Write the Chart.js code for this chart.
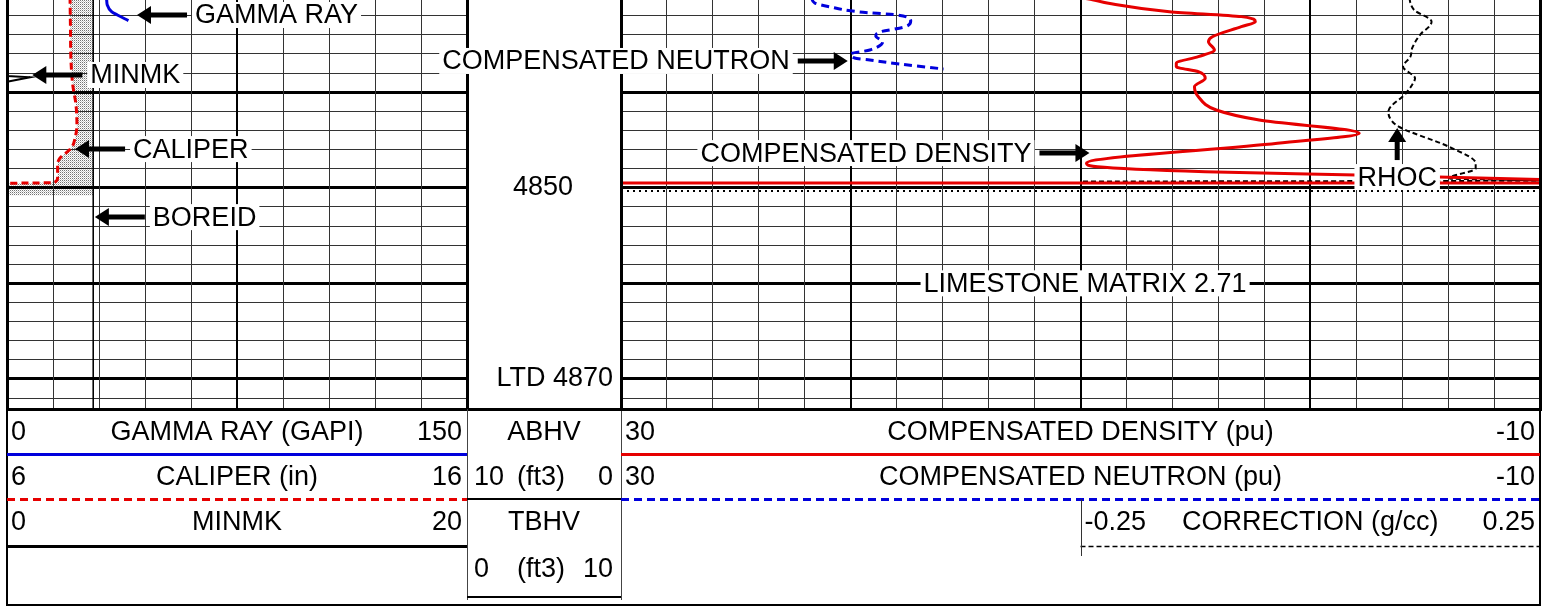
<!DOCTYPE html>
<html>
<head>
<meta charset="utf-8">
<script src="https://cdn.jsdelivr.net/npm/chart.js@4.4.1/dist/chart.umd.min.js"></script>
<style>
  body { margin: 0; background: #fff; }
  #wrap { position: relative; width: 1554px; height: 608px; }
  #wrap canvas { position: absolute; left: 0; top: 0; }
</style>
</head>
<body>
<div id="wrap">
  <canvas id="track1" width="1554" height="608"></canvas>
  <canvas id="depthTrack" width="1554" height="608"></canvas>
  <canvas id="track2" width="1554" height="608"></canvas>
</div>
<script>
// depth window shown (ft)
var depthTop = 4830.35;
var depthBottom = 4873.15;

// ---- track 1 ----
var gammaRange = [0, 150];
var caliperRange = [6, 16];
var minmkRange = [0, 20];

var gammaDepth = [4830.0, 4830.35, 4830.87, 4831.57, 4831.92, 4832.51];
var gammaVal   = [32.3, 32.5, 32.7, 34.1, 36.0, 39.6];

var caliperDepth = [4830.0, 4833.49, 4836.63, 4839.25, 4841.34, 4843.43, 4844.80, 4845.74, 4846.37, 4846.89, 4847.62, 4848.98, 4849.46, 4849.54, 4850.8];
var caliperVal   = [7.37, 7.38, 7.39, 7.43, 7.50, 7.52, 7.48, 7.41, 7.28, 7.15, 7.10, 7.10, 7.02, 6.0, 6.0];

var boreDepth = [4830.0, 4873.2];
var boreVal   = [7.875, 7.875];

var minmkDepth = [4830.0, 4838.30, 4838.43, 4838.90, 4849.5];
var minmkVal   = [0, 0, 1.0, 0, 0];

// ---- track 2 ----
var porosityRange = [30, -10];
var correctionRange = [-0.25, 0.25];

var neutronDepth = [4830.14, 4830.66, 4831.07, 4831.60, 4831.91, 4832.54, 4833.17, 4833.70, 4834.12, 4834.74, 4835.58, 4836.00, 4836.42, 4836.63, 4837.05, 4837.57];
var neutronVal   = [21.70, 21.57, 20.91, 19.61, 18.00, 17.39, 17.65, 18.74, 18.91, 18.61, 19.17, 20.00, 19.83, 19.17, 17.87, 15.96];

// last sample is drawn across the whole scale, after a break
var densityDepth = [4830.0, 4830.35, 4830.69, 4831.57, 4832.09, 4832.62, 4833.14, 4834.19, 4834.71, 4835.58, 4836.28, 4836.97, 4837.33, 4837.85, 4838.54, 4839.42, 4840.47, 4841.86, 4842.91, 4844.30, 4845.35, 4847.44, 4847.80, 4848.32, 4848.67, 4849.14, 4849.30, 4849.51, 4849.51];
var densityVal   = [10.2, 9.43, 8.78, 6.13, 3.0, 2.39, 3.0, 4.26, 4.43, 4.17, 4.87, 5.83, 5.83, 4.87, 4.57, 5.04, 4.87, 4.09, 2.22, -2.13, 1.43, 9.74, 9.26, 4.57, -2.0, -10.0, null, 30.0, -10.0];

var rhocDepth = [4830.14, 4830.66, 4831.39, 4832.62, 4833.17, 4833.83, 4835.37, 4836.28, 4837.33, 4838.54, 4839.35, 4840.12, 4842.04, 4842.91, 4843.64, 4845.71, 4847.44, 4847.97, 4849.02, 4849.25, 4849.35];
var rhocVal   = [0.108, 0.109, 0.113, 0.132, 0.129, 0.121, 0.111, 0.109, 0.101, 0.114, 0.110, 0.104, 0.085, 0.088, 0.097, 0.151, 0.180, 0.180, 0.151, 0.25, -0.25];

var dottedDepth = [4850.35, 4850.35];
var dottedVal   = [30, -10];

// ---- depth track ----
var depthLabels = ['4850', 'LTD 4870'];
var depthLabelAt = [4850, 4870];
var abhvRange = [10, 0];
var tbhvRange = [0, 10];

var FONT = '27px "Liberation Sans", Arial, sans-serif';
var RED = '#e60000';
var BLUE = '#0000dc';
var MINOR = '#333';
var LEGEND_TEXT_Y = [433, 478, 523];
var LEGEND_LINE_Y = [454, 499, 546];
var LEGEND_BOTTOM = 605;

function pts(depths, vals) {
  return depths.map(function (d, i) { return { x: vals[i], y: d }; });
}

function stipple() {
  var c = document.createElement('canvas');
  c.width = 2; c.height = 2;
  var g = c.getContext('2d');
  g.fillStyle = 'rgba(0,0,0,0.55)'; g.fillRect(0, 0, 1, 1);
  g.fillStyle = 'rgba(0,0,0,0.22)'; g.fillRect(1, 1, 1, 1);
  return g.createPattern(c, 'repeat');
}

function depthAxis(show) {
  return {
    type: 'linear', position: 'left', reverse: true,
    min: depthTop, max: depthBottom, display: show,
    ticks: { display: false },
    afterBuildTicks: function (axis) {
      var t = [];
      for (var d = Math.ceil(depthTop / 2) * 2; d <= depthBottom; d += 2) t.push({ value: d });
      axis.ticks = t;
    },
    grid: {
      drawTicks: false,
      color: function (c) { return c.tick && c.tick.value % 10 === 0 ? '#000' : MINOR; },
      lineWidth: function (c) { return c.tick && c.tick.value % 10 === 0 ? 3 : 1; }
    },
    border: { display: false }
  };
}

function gridAxis(lo, hi, step, base, rev) {
  return {
    type: 'linear', axis: 'x', position: 'bottom', reverse: !!rev,
    min: lo, max: hi,
    ticks: { display: false, stepSize: step },
    grid: {
      drawTicks: false,
      color: function (c) { return c.tick && Math.abs(c.tick.value - base) % (5 * step) === 0 ? '#000' : MINOR; },
      lineWidth: function (c) { return c.tick && Math.abs(c.tick.value - base) % (5 * step) === 0 ? 2 : 1; }
    },
    border: { display: false }
  };
}

function hiddenAxis(lo, hi, rev) {
  return { type: 'linear', axis: 'x', display: false, min: lo, max: hi, reverse: !!rev };
}

function drawNote(ctx, chart, n) {
  var x = chart.scales[n.axis].getPixelForValue(n.value);
  var y = chart.scales.y.getPixelForValue(n.depth);
  ctx.font = FONT;
  ctx.textBaseline = 'middle';
  ctx.textAlign = 'left';
  var w = ctx.measureText(n.text).width;
  var tx = x - w / 2, ty = y;
  if (n.dir === 'left') tx = x + 58;
  if (n.dir === 'right') tx = x - 58 - w;
  if (n.dir === 'up') ty = y + 49;
  ctx.fillStyle = '#fff';
  ctx.fillRect(tx - 3, ty - 13, w + 6, 26);
  ctx.fillStyle = '#000';
  ctx.fillText(n.text, tx, ty + 1);
  if (n.dir === 'none') return;
  var len = n.dir === 'up' ? 32 : 50, head = 14, hw = 9;
  var sx = n.dir === 'left' ? 1 : n.dir === 'right' ? -1 : 0;
  var sy = n.dir === 'up' ? 1 : 0;
  ctx.strokeStyle = '#000';
  ctx.lineWidth = 5;
  ctx.beginPath();
  ctx.moveTo(x + sx * (head - 1), y + sy * (head - 1));
  ctx.lineTo(x + sx * len, y + sy * len);
  ctx.stroke();
  ctx.beginPath();
  ctx.moveTo(x, y);
  ctx.lineTo(x + sx * head - sy * hw, y + sy * head - sx * hw);
  ctx.lineTo(x + sx * head + sy * hw, y + sy * head + sx * hw);
  ctx.closePath();
  ctx.fill();
}

function drawLegendRows(ctx, a, rows) {
  rows.forEach(function (r, i) {
    var x0 = a.left + (a.right - a.left) * r.from;
    var x1 = a.left + (a.right - a.left) * r.to;
    ctx.fillStyle = '#000';
    ctx.font = FONT;
    ctx.textBaseline = 'middle';
    ctx.textAlign = 'left';
    ctx.fillText(String(r.range[0]), x0 + 4, LEGEND_TEXT_Y[i]);
    ctx.textAlign = 'center';
    ctx.fillText(r.name, (x0 + x1) / 2, LEGEND_TEXT_Y[i]);
    ctx.textAlign = 'right';
    ctx.fillText(String(r.range[1]), x1 - 5, LEGEND_TEXT_Y[i]);
    ctx.strokeStyle = r.color;
    ctx.lineWidth = r.width;
    ctx.setLineDash(r.dash);
    ctx.beginPath();
    ctx.moveTo(x0, LEGEND_LINE_Y[i] + 0.5);
    ctx.lineTo(x1, LEGEND_LINE_Y[i] + 0.5);
    ctx.stroke();
    ctx.setLineDash([]);
    if (r.from > 0) {
      ctx.strokeStyle = '#333';
      ctx.lineWidth = 1;
      ctx.beginPath();
      ctx.moveTo(Math.round(x0) + 0.5, LEGEND_LINE_Y[i - 1]);
      ctx.lineTo(Math.round(x0) + 0.5, LEGEND_LINE_Y[i] + 10);
      ctx.stroke();
    }
  });
}

function trackDecor(cfg) {
  return {
    id: 'trackDecor',
    afterDraw: function (chart) {
      var ctx = chart.ctx, a = chart.chartArea;
      var l = Math.round(a.left) + 0.5, r = Math.round(a.right) + 0.5, b = Math.round(a.bottom) + 0.5;
      ctx.save();
      // track frame
      ctx.strokeStyle = '#000';
      ctx.lineWidth = 3;
      ctx.beginPath();
      ctx.moveTo(l, 0); ctx.lineTo(l, b);
      ctx.moveTo(r, 0); ctx.lineTo(r, b);
      ctx.moveTo(l - 1.5, b); ctx.lineTo(r + 1.5, b);
      ctx.stroke();
      // legend box edges
      ctx.lineWidth = 2;
      ctx.beginPath();
      if (cfg.frameLeft) { ctx.moveTo(Math.round(a.left), b); ctx.lineTo(Math.round(a.left), LEGEND_BOTTOM); }
      if (cfg.frameRight) { ctx.moveTo(Math.round(a.right), b); ctx.lineTo(Math.round(a.right), LEGEND_BOTTOM); }
      ctx.moveTo(a.left - 1, LEGEND_BOTTOM); ctx.lineTo(a.right + 1, LEGEND_BOTTOM);
      ctx.stroke();
      drawLegendRows(ctx, a, cfg.legend);
      cfg.notes.forEach(function (n) { drawNote(ctx, chart, n); });
      ctx.restore();
    }
  };
}

var baseOptions = function (padLeft, padRight) {
  return {
    indexAxis: 'y',
    responsive: false,
    animation: false,
    events: [],
    layout: { padding: { left: padLeft, right: padRight, top: 0, bottom: 199 }, autoPadding: false },
    plugins: { legend: { display: false }, tooltip: { enabled: false } },
    elements: { point: { radius: 0 } }
  };
};

// ---------------- TRACK 1 ----------------
var t1Options = baseOptions(7, 1554 - 467);
t1Options.scales = {
  y: depthAxis(true),
  xCal: gridAxis(caliperRange[0], caliperRange[1], 1, caliperRange[0]),
  xGamma: hiddenAxis(gammaRange[0], gammaRange[1]),
  xMinmk: hiddenAxis(minmkRange[0], minmkRange[1])
};

new Chart(document.getElementById('track1'), {
  type: 'line',
  data: {
    datasets: [
      { label: 'BOREID', xAxisID: 'xCal', data: pts(boreDepth, boreVal), borderColor: '#000', borderWidth: 1 },
      { label: 'CALIPER', xAxisID: 'xCal', data: pts(caliperDepth, caliperVal), borderColor: RED, borderWidth: 3,
        borderDash: [7, 4], cubicInterpolationMode: 'monotone', fill: 0, backgroundColor: stipple() },
      { label: 'GAMMA RAY', xAxisID: 'xGamma', data: pts(gammaDepth, gammaVal), borderColor: BLUE, borderWidth: 3,
        cubicInterpolationMode: 'monotone' },
      { label: 'MINMK', xAxisID: 'xMinmk', data: pts(minmkDepth, minmkVal), borderColor: '#000', borderWidth: 2 }
    ]
  },
  options: t1Options,
  plugins: [trackDecor({
    frameLeft: true,
    legend: [
      { name: 'GAMMA RAY (GAPI)', range: gammaRange, color: BLUE, width: 3, dash: [], from: 0, to: 1 },
      { name: 'CALIPER (in)', range: caliperRange, color: RED, width: 3, dash: [8, 5], from: 0, to: 1 },
      { name: 'MINMK', range: minmkRange, color: '#000', width: 3, dash: [], from: 0, to: 1 }
    ],
    notes: [
      { text: 'GAMMA RAY', axis: 'xGamma', value: 42.4, depth: 4831.92, dir: 'left' },
      { text: 'MINMK', axis: 'xMinmk', value: 1.1, depth: 4838.2, dir: 'left' },
      { text: 'CALIPER', axis: 'xCal', value: 7.48, depth: 4845.95, dir: 'left' },
      { text: 'BOREID', axis: 'xCal', value: 7.91, depth: 4853.07, dir: 'left' }
    ]
  })]
});

// ---------------- DEPTH TRACK ----------------
var dOptions = baseOptions(467, 1554 - 621);
dOptions.scales = {
  y: { type: 'linear', display: false, reverse: true, min: depthTop, max: depthBottom },
  x: { type: 'linear', display: false, min: 0, max: 1 }
};

new Chart(document.getElementById('depthTrack'), {
  type: 'line',
  data: { datasets: [] },
  options: dOptions,
  plugins: [{
    id: 'depthDecor',
    afterDraw: function (chart) {
      var ctx = chart.ctx, a = chart.chartArea, y = chart.scales.y;
      var mid = (a.left + a.right) / 2;
      ctx.save();
      ctx.font = FONT;
      ctx.fillStyle = '#000';
      ctx.textBaseline = 'middle';
      ctx.textAlign = 'center';
      ctx.fillText(depthLabels[0], mid - 1, y.getPixelForValue(depthLabelAt[0]));
      ctx.textAlign = 'right';
      ctx.fillText(depthLabels[1], a.right - 8, y.getPixelForValue(depthLabelAt[1]));
      // bottom of the depth column
      ctx.strokeStyle = '#000';
      ctx.lineWidth = 3;
      ctx.beginPath();
      ctx.moveTo(a.left, Math.round(a.bottom) + 0.5); ctx.lineTo(a.right, Math.round(a.bottom) + 0.5);
      ctx.stroke();
      // legend column
      ctx.strokeStyle = '#444';
      ctx.lineWidth = 1;
      ctx.beginPath();
      ctx.moveTo(Math.round(a.left) + 0.5, a.bottom); ctx.lineTo(Math.round(a.left) + 0.5, 600);
      ctx.moveTo(Math.round(a.right) + 0.5, a.bottom); ctx.lineTo(Math.round(a.right) + 0.5, 600);
      ctx.stroke();
      ctx.textAlign = 'center';
      ctx.fillText('ABHV', mid, LEGEND_TEXT_Y[0]);
      ctx.fillText('TBHV', mid, LEGEND_TEXT_Y[2]);
      var rowsY = [LEGEND_TEXT_Y[1], 570];
      var ranges = [abhvRange, tbhvRange];
      for (var i = 0; i < 2; i++) {
        ctx.textAlign = 'left';
        ctx.fillText(String(ranges[i][0]), a.left + 7, rowsY[i]);
        ctx.textAlign = 'center';
        ctx.fillText('(ft3)', mid - 3, rowsY[i]);
        ctx.textAlign = 'right';
        ctx.fillText(String(ranges[i][1]), a.right - 8, rowsY[i]);
      }
      ctx.strokeStyle = '#000';
      ctx.lineWidth = 2;
      ctx.beginPath();
      ctx.moveTo(a.left, 499); ctx.lineTo(a.right, 499);
      ctx.moveTo(a.left, 597); ctx.lineTo(a.right, 597);
      ctx.moveTo(a.left, LEGEND_BOTTOM); ctx.lineTo(a.right, LEGEND_BOTTOM);
      ctx.stroke();
      ctx.restore();
    }
  }]
});

// ---------------- TRACK 2 ----------------
var t2Options = baseOptions(621, 1554 - 1540);
t2Options.scales = {
  y: depthAxis(true),
  xPor: gridAxis(porosityRange[1], porosityRange[0], 2, 0, true),
  // correction curve uses the right half of the track
  xCorr: hiddenAxis(correctionRange[0] - (correctionRange[1] - correctionRange[0]), correctionRange[1])
};

new Chart(document.getElementById('track2'), {
  type: 'line',
  data: {
    datasets: [
      { label: 'COMPENSATED DENSITY', xAxisID: 'xPor', data: pts(densityDepth, densityVal), borderColor: RED, borderWidth: 3,
        cubicInterpolationMode: 'monotone', spanGaps: false },
      { label: 'COMPENSATED NEUTRON', xAxisID: 'xPor', data: pts(neutronDepth, neutronVal), borderColor: BLUE, borderWidth: 3,
        borderDash: [8, 5], cubicInterpolationMode: 'monotone' },
      { label: 'RHOC', xAxisID: 'xCorr', data: pts(rhocDepth, rhocVal), borderColor: '#000', borderWidth: 2,
        borderDash: [5, 3], cubicInterpolationMode: 'monotone' },
      { label: 'end', xAxisID: 'xPor', data: pts(dottedDepth, dottedVal), borderColor: '#000', borderWidth: 2,
        borderDash: [2, 4] }
    ]
  },
  options: t2Options,
  plugins: [trackDecor({
    frameRight: true,
    legend: [
      { name: 'COMPENSATED DENSITY (pu)', range: porosityRange, color: RED, width: 3, dash: [], from: 0, to: 1 },
      { name: 'COMPENSATED NEUTRON (pu)', range: porosityRange, color: BLUE, width: 3, dash: [8, 5], from: 0, to: 1 },
      { name: 'CORRECTION (g/cc)', range: correctionRange, color: '#000', width: 1.5, dash: [5, 3], from: 0.5, to: 1 }
    ],
    notes: [
      { text: 'COMPENSATED NEUTRON', axis: 'xPor', value: 20.13, depth: 4836.73, dir: 'right' },
      { text: 'COMPENSATED DENSITY', axis: 'xPor', value: 9.61, depth: 4846.37, dir: 'right' },
      { text: 'RHOC', axis: 'xCorr', value: 0.0946, depth: 4843.75, dir: 'up' },
      { text: 'LIMESTONE MATRIX 2.71', axis: 'xPor', value: 9.8, depth: 4860, dir: 'none' }
    ]
  })]
});
</script>
</body>
</html>
